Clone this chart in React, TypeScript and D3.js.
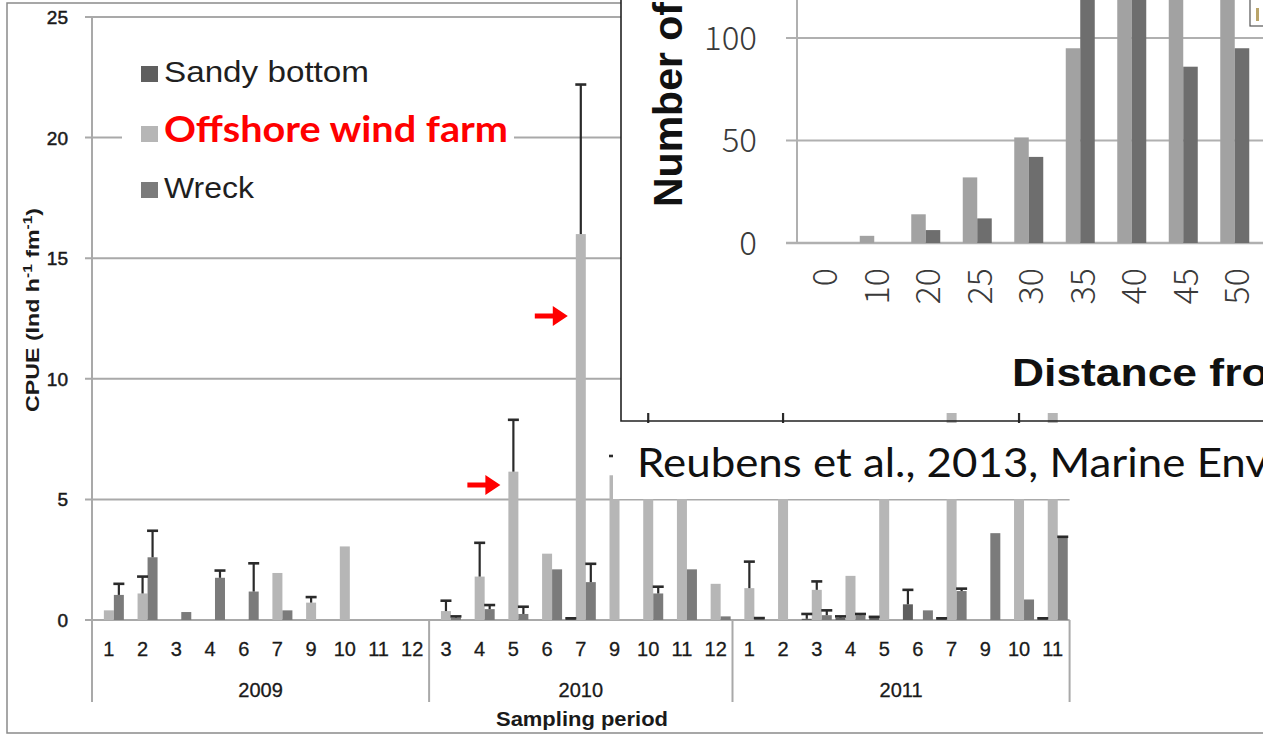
import React, { useEffect, useRef } from 'react';
import * as d3 from 'd3';

// main chart: CPUE per sampling period
const years = ['2009', '2010', '2011'];
const months2009 = ['1', '2', '3', '4', '6', '7', '9', '10', '11', '12'];
const months2010 = ['3', '4', '5', '6', '7', '9', '10', '11', '12'];
const months2011 = ['1', '2', '3', '4', '5', '6', '7', '9', '10', '11'];

const seriesNames = ['Sandy bottom', 'Offshore wind farm', 'Wreck'];

const sandyValues = [
    0, 0, 0, 0, 0, 0, 0, 0, 0, 0,
    0, 0, 0, 0, 0.05, 0, 0, 0, 0,
    0, 0, 0.05, 0.1, 0.1, 0.65, 0.05, 0, 0, 0.05
];
const sandyErrors = [
    0, 0, 0, 0, 0, 0, 0, 0, 0, 0,
    0, 0, 0, 0, 0.02, 0, 0, 0, 0,
    0, 0, 0.2, 0.05, 0.03, 0.6, 0.02, 0, 0, 0.02
];
const windFarmValues = [
    0.4, 1.1, 0, 0, 0, 1.95, 0.72, 3.05, 0, 0,
    0.37, 1.8, 6.15, 2.75, 16.0, 6.0, 7.6, 7.0, 1.5,
    1.32, 7.2, 1.25, 1.83, 6.5, 0, 9.5, 0, 7.8, 9.0
];
const windFarmErrors = [
    0, 0.7, 0, 0, 0, 0, 0.23, 0, 0, 0,
    0.43, 1.4, 2.15, 0, 6.2, 0.8, 2.9, 0, 0,
    1.1, 1.8, 0.35, 0, 1.5, 0, 0, 0, 2.2, 0
];
const wreckValues = [
    1.04, 2.6, 0.33, 1.75, 1.18, 0.4, 0, 0, 0, 0,
    0.1, 0.45, 0.25, 2.1, 1.57, 0, 1.1, 2.1, 0.15,
    0.05, 0, 0.2, 0.2, 0, 0.4, 1.2, 3.6, 0.85, 3.4
];
const wreckErrors = [
    0.46, 1.1, 0, 0.3, 1.17, 0, 0, 0, 0, 0,
    0.05, 0.17, 0.3, 0, 0.76, 0, 0.28, 0, 0,
    0.03, 0, 0.2, 0.05, 0, 0, 0.1, 0, 0, 0.05
];
const cpueTicks = [0, 5, 10, 15, 20, 25];

// inset chart: counts by distance
const distanceLabels = ['0', '10', '20', '25', '30', '35', '40', '45', '50'];
const insetLight = [0, 3.5, 14, 32, 51.5, 95, 150, 135, 125];
const insetDark = [0, 0, 6.3, 12, 42, 130, 145, 86, 95];
const insetTicks = [0, 50, 100];

const FONT = 'Liberation Sans, Arial, sans-serif';
const CITATION = 'Reubens et al., 2013, Marine Env';

const App: React.FC = () => {
    const svgRef = useRef<SVGSVGElement>(null);

    useEffect(() => {
        if (!svgRef.current) return;
        const width = 1263;
        const height = 735;
        const svg = d3.select(svgRef.current)
            .attr('width', width)
            .attr('height', height)
            .attr('viewBox', `0 0 ${width} ${height}`);
        svg.selectAll('*').remove();

        svg.append('rect').attr('width', width).attr('height', height).attr('fill', '#ffffff');

        const periods = [
            ...months2009.map(m => ({ year: years[0], m })),
            ...months2010.map(m => ({ year: years[1], m })),
            ...months2011.map(m => ({ year: years[2], m }))
        ];
        const groupSizes = [months2009.length, months2010.length, months2011.length];

        const x = d3.scaleBand<number>()
            .domain(d3.range(periods.length))
            .range([92, 1069.6]);
        const y = d3.scaleLinear().domain([0, 25]).range([620, 17]);
        const barW = 10;
        const groupOff = (x.bandwidth() - 3 * barW) / 2;

        const main = svg.append('g');

        // Gridlines
        main.append('g').selectAll('line')
            .data(cpueTicks)
            .join('line')
            .attr('x1', 85)
            .attr('x2', x.range()[1])
            .attr('y1', d => y(d))
            .attr('y2', d => y(d))
            .attr('stroke', '#a9a9a9')
            .attr('stroke-width', 2);

        // Bars
        const series = [
            { values: sandyValues, errors: sandyErrors, color: '#5f5f5f' },
            { values: windFarmValues, errors: windFarmErrors, color: '#b6b6b6' },
            { values: wreckValues, errors: wreckErrors, color: '#7b7b7b' }
        ];
        const barLeft = (i: number, s: number) => (x(i) as number) + groupOff + s * barW;

        series.forEach((ser, s) => {
            const pts = ser.values.map((v, i) => ({ v, e: ser.errors[i], i })).filter(d => d.v > 0);
            main.append('g').selectAll('rect')
                .data(pts)
                .join('rect')
                .attr('x', d => barLeft(d.i, s))
                .attr('y', d => y(d.v))
                .attr('width', barW)
                .attr('height', d => y(0) - y(d.v))
                .attr('fill', ser.color);
        });

        // Error bars
        series.forEach((ser, s) => {
            const pts = ser.values.map((v, i) => ({ v, e: ser.errors[i], i })).filter(d => d.e > 0);
            const g = main.append('g').attr('stroke', '#2a2a2a').attr('stroke-width', 2.2);
            g.selectAll('.eb')
                .data(pts)
                .join('line')
                .attr('x1', d => barLeft(d.i, s) + barW / 2)
                .attr('x2', d => barLeft(d.i, s) + barW / 2)
                .attr('y1', d => y(d.v))
                .attr('y2', d => y(d.v + d.e));
            g.selectAll('.cap')
                .data(pts)
                .join('line')
                .attr('x1', d => barLeft(d.i, s) + barW / 2 - 5.5)
                .attr('x2', d => barLeft(d.i, s) + barW / 2 + 5.5)
                .attr('y1', d => y(d.v + d.e))
                .attr('y2', d => y(d.v + d.e))
                .attr('stroke-width', 2.6);
        });

        // Axis lines and group dividers
        const step = x.step();
        const dividers = [0];
        groupSizes.reduce((acc, n) => { dividers.push(acc + n); return acc + n; }, 0);
        main.append('line')
            .attr('x1', 92).attr('x2', 92).attr('y1', 17).attr('y2', 702)
            .attr('stroke', '#a9a9a9').attr('stroke-width', 2);
        main.append('g').selectAll('line')
            .data(dividers)
            .join('line')
            .attr('x1', d => 92 + d * step)
            .attr('x2', d => 92 + d * step)
            .attr('y1', 620)
            .attr('y2', 702)
            .attr('stroke', '#a9a9a9')
            .attr('stroke-width', 2);

        // Y tick labels
        main.append('g').selectAll('text')
            .data(cpueTicks)
            .join('text')
            .attr('x', 68)
            .attr('y', d => y(d) + 7)
            .attr('text-anchor', 'end')
            .attr('font-family', FONT)
            .attr('font-size', 19)
            .attr('fill', '#1a1a1a')
            .attr('stroke', '#1a1a1a')
            .attr('stroke-width', 0.5)
            .text(d => d);

        // X tick labels
        main.append('g').selectAll('text')
            .data(periods)
            .join('text')
            .attr('x', (d, i) => (x(i) as number) + x.bandwidth() / 2)
            .attr('y', 656)
            .attr('text-anchor', 'middle')
            .attr('font-family', FONT)
            .attr('font-size', 20)
            .attr('fill', '#1a1a1a')
            .attr('stroke', '#1a1a1a')
            .attr('stroke-width', 0.3)
            .text(d => d.m);

        // Year labels
        main.append('g').selectAll('text')
            .data(years)
            .join('text')
            .attr('x', (d, k) => 92 + (dividers[k] + dividers[k + 1]) / 2 * step)
            .attr('y', 697)
            .attr('text-anchor', 'middle')
            .attr('font-family', FONT)
            .attr('font-size', 20)
            .attr('fill', '#1a1a1a')
            .attr('stroke', '#1a1a1a')
            .attr('stroke-width', 0.3)
            .text(d => d);

        main.append('text')
            .attr('x', 582)
            .attr('y', 726)
            .attr('text-anchor', 'middle')
            .attr('font-family', FONT)
            .attr('font-size', 20)
            .attr('font-weight', 'bold')
            .attr('fill', '#1a1a1a')
            .attr('textLength', 172)
            .attr('lengthAdjust', 'spacingAndGlyphs')
            .text('Sampling period');

        // Y axis title
        const yt = main.append('text')
            .attr('transform', 'translate(39,310) rotate(-90)')
            .attr('text-anchor', 'middle')
            .attr('font-family', FONT)
            .attr('font-size', 18)
            .attr('font-weight', 'bold')
            .attr('fill', '#1a1a1a')
            .attr('textLength', 204)
            .attr('lengthAdjust', 'spacingAndGlyphs');
        yt.append('tspan').text('CPUE (Ind h');
        yt.append('tspan').attr('dy', -7).attr('font-size', 12).text('-1');
        yt.append('tspan').attr('dy', 7).text(' fm');
        yt.append('tspan').attr('dy', -7).attr('font-size', 12).text('-1');
        yt.append('tspan').attr('dy', 7).text(')');

        // Legend
        main.append('rect')
            .attr('x', 122).attr('y', 108).attr('width', 392).attr('height', 44)
            .attr('fill', '#ffffff');
        const legendRows = [
            { y: 82, len: 205, color: '#1f1f1f' },
            { y: 142, len: 344, color: '#ff0000' },
            { y: 198, len: 90, color: '#1f1f1f' }
        ];
        legendRows.forEach((row, s) => {
            main.append('rect')
                .attr('x', 141).attr('y', row.y - 16).attr('width', 17).attr('height', 16)
                .attr('fill', series[s].color);
            const t = main.append('text')
                .attr('x', 164)
                .attr('y', row.y)
                .attr('fill', row.color)
                .attr('textLength', row.len)
                .attr('lengthAdjust', 'spacingAndGlyphs')
                .text(seriesNames[s]);
            if (s === 1) {
                t.attr('font-family', 'Lato, "Open Sans", sans-serif').attr('font-size', 36).attr('font-weight', 'bold');
            } else {
                t.attr('font-family', FONT).attr('font-size', 29);
            }
        });

        // Red arrows
        const arrowTargets = [{ period: 12, at: 5.6 }, { period: 14, at: 12.6 }];
        main.append('g').selectAll('path')
            .data(arrowTargets)
            .join('path')
            .attr('d', d => {
                const tx = barLeft(d.period, 1) - 8;
                const ty = y(d.at);
                return `M${tx - 33},${ty - 2.5} L${tx - 15},${ty - 2.5} L${tx - 15},${ty - 10} L${tx},${ty} ` +
                    `L${tx - 15},${ty + 10} L${tx - 15},${ty + 2.5} L${tx - 33},${ty + 2.5} Z`;
            })
            .attr('fill', '#ff0000');

        // outer frame
        main.append('rect')
            .attr('x', 7).attr('y', 3).attr('width', 1270).attr('height', 730)
            .attr('fill', 'none')
            .attr('stroke', '#8a8a8a')
            .attr('stroke-width', 1.5);

        // ---- Inset chart ----
        const inset = svg.append('g');
        inset.append('rect')
            .attr('x', 621).attr('y', -2).attr('width', 650).attr('height', 415)
            .attr('fill', '#ffffff');

        const iy = d3.scaleLinear().domain([0, 100]).range([243, 38]);
        const ix = d3.scaleBand<string>()
            .domain(distanceLabels)
            .range([797, 797 + distanceLabels.length * 51.5]);
        const ibw = 14.5;

        inset.append('g').selectAll('line')
            .data(insetTicks)
            .join('line')
            .attr('x1', 786)
            .attr('x2', 1263)
            .attr('y1', d => iy(d))
            .attr('y2', d => iy(d))
            .attr('stroke', '#b0b0b0')
            .attr('stroke-width', d => d === 0 ? 2.5 : 2);
        inset.append('line')
            .attr('x1', 797).attr('x2', 797).attr('y1', 0).attr('y2', iy(0))
            .attr('stroke', '#b0b0b0').attr('stroke-width', 2);

        inset.append('g').selectAll('rect')
            .data(insetLight.map((v, i) => ({ v, k: distanceLabels[i] })).filter(d => d.v > 0))
            .join('rect')
            .attr('x', d => (ix(d.k) as number) + ix.bandwidth() / 2 - ibw)
            .attr('y', d => iy(d.v))
            .attr('width', ibw)
            .attr('height', d => iy(0) - iy(d.v))
            .attr('fill', '#a2a2a2');
        inset.append('g').selectAll('rect')
            .data(insetDark.map((v, i) => ({ v, k: distanceLabels[i] })).filter(d => d.v > 0))
            .join('rect')
            .attr('x', d => (ix(d.k) as number) + ix.bandwidth() / 2)
            .attr('y', d => iy(d.v))
            .attr('width', ibw)
            .attr('height', d => iy(0) - iy(d.v))
            .attr('fill', '#6e6e6e');

        inset.append('g').selectAll('text')
            .data(insetTicks)
            .join('text')
            .attr('x', 757)
            .attr('y', d => iy(d))
            .attr('dy', '0.35em')
            .attr('text-anchor', 'end')
            .attr('font-family', '"Noto Sans CJK KR", "Noto Sans", sans-serif')
            .attr('font-weight', 300)
            .attr('font-size', 33)
            .attr('fill', '#3a3a3a')
            .text(d => d);

        inset.append('g').selectAll('text')
            .data(distanceLabels)
            .join('text')
            .attr('transform', d => `translate(${(ix(d) as number) + ix.bandwidth() / 2},268) rotate(-90)`)
            .attr('text-anchor', 'end')
            .attr('dominant-baseline', 'central')
            .attr('font-family', '"Noto Sans CJK KR", "Noto Sans", sans-serif')
            .attr('font-weight', 300)
            .attr('font-size', 34)
            .attr('fill', '#3a3a3a')
            .text(d => d);

        inset.append('text')
            .attr('transform', 'translate(682,207) rotate(-90)')
            .attr('font-family', FONT)
            .attr('font-weight', 'bold')
            .attr('font-size', 41)
            .attr('fill', '#111')
            .text('Number of');

        inset.append('text')
            .attr('x', 1012)
            .attr('y', 386)
            .attr('font-family', FONT)
            .attr('font-weight', 'bold')
            .attr('font-size', 38)
            .attr('fill', '#111')
            .attr('textLength', 296)
            .attr('lengthAdjust', 'spacingAndGlyphs')
            .text('Distance from');

        // inset legend box edge
        inset.append('rect')
            .attr('x', 1250).attr('y', -2).attr('width', 30).attr('height', 28)
            .attr('fill', '#ffffff').attr('stroke', '#555').attr('stroke-width', 1.2);
        inset.append('rect')
            .attr('x', 1256).attr('y', 8).attr('width', 3).attr('height', 13)
            .attr('fill', '#b9a46a');

        // inset border
        inset.append('path')
            .attr('d', 'M621,0 L621,421 L1263,421')
            .attr('fill', 'none')
            .attr('stroke', '#222')
            .attr('stroke-width', 1.6);

        // citation box
        const cite = svg.append('g');
        cite.append('rect')
            .attr('x', 613).attr('y', 423).attr('width', 462).attr('height', 76)
            .attr('fill', '#ffffff');
        cite.append('text')
            .attr('x', 637)
            .attr('y', 477)
            .attr('font-family', 'Lato, "Open Sans", sans-serif')
            .attr('font-size', 40)
            .attr('fill', '#111')
            .attr('textLength', 631)
            .attr('lengthAdjust', 'spacingAndGlyphs')
            .text(CITATION);
    }, []);

    return (
        <svg ref={svgRef} style={{ position: 'absolute', left: 0, top: 0, display: 'block' }} />
    );
};

export default App;
